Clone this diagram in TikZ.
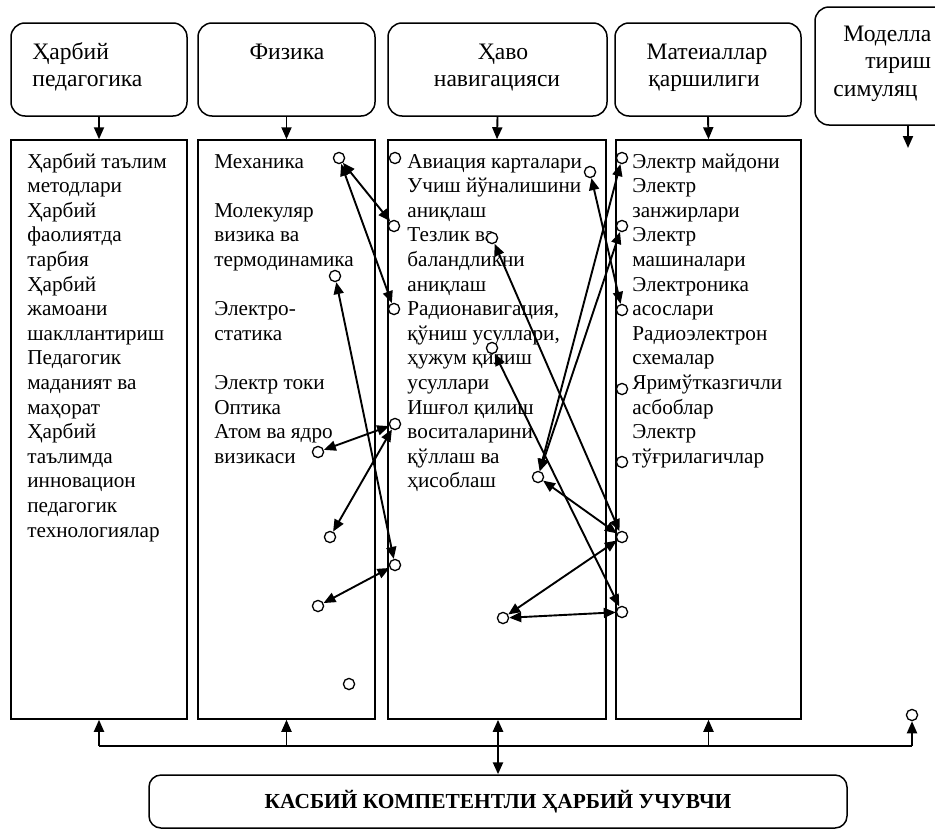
\documentclass[tikz,border=0pt]{standalone}
\usepackage{fontspec}
\setmainfont{Liberation Serif}
\usetikzlibrary{arrows.meta}
\begin{document}
\begin{tikzpicture}[x=0.5pt,y=-0.5pt,
  box/.style={draw,line width=0.75pt,inner sep=0pt},
  rbox/.style={box,rounded corners=7pt},
  txt/.style={anchor=base west,inner sep=0pt,font=\fontsize{10.6}{12.3}\selectfont},
  ttl/.style={inner sep=0pt,font=\fontsize{11.8}{13.5}\selectfont},
  dot/.style={circle,draw,line width=0.65pt,minimum size=5.6pt,inner sep=0pt,fill=white},
  arr/.style={line width=0.95pt,-{Triangle[length=6pt,width=5pt]}},
  darr/.style={line width=0.95pt,{Triangle[length=6pt,width=5pt]}-{Triangle[length=6pt,width=5pt]}}]
\useasboundingbox (0,0) rectangle (935,830);
\clip (0,0) rectangle (935,830);
% top boxes
\node[rbox,minimum width=88pt,minimum height=46.5pt] (T1) at (99,69.5) {};
\node[rbox,minimum width=88.5pt,minimum height=46.5pt] (T2) at (286.5,69.5) {};
\node[rbox,minimum width=109.5pt,minimum height=46.5pt] (T3) at (497.5,69.5) {};
\node[rbox,minimum width=93pt,minimum height=46.5pt] (T4) at (708,69.5) {};
\node[rbox,minimum width=93pt,minimum height=59pt] (T5) at (908,66) {};
\node[ttl,anchor=base west] (t1a) at (32,59) {Ҳарбий};
\node[ttl,anchor=base west] (t1b) at (32,86) {педагогика};
\node[ttl,anchor=base] (t2a) at (287,59) {Физика};
\node[ttl,anchor=base] (t3a) at (503,59) {Ҳаво};
\node[ttl,anchor=base] (t3b) at (497,86) {навигацияси};
\node[ttl,anchor=base] (t4a) at (707,59) {Матеиаллар};
\node[ttl,anchor=base] (t4b) at (704,86) {қаршилиги};
\node[ttl,anchor=base west] (t5a) at (843,41) {Моделла};
\node[ttl,anchor=base west] (t5b) at (865,68.5) {тириш};
\node[ttl,anchor=base west] (t5c) at (833,96) {симуляц};
% lower boxes
\node[box,minimum width=88pt,minimum height=289.5pt] (L1) at (99,429.5) {};
\node[box,minimum width=88.5pt,minimum height=289.5pt] (L2) at (286.5,429.5) {};
\node[box,minimum width=109pt,minimum height=289.5pt] (L3) at (497,429.5) {};
\node[box,minimum width=92.5pt,minimum height=289.5pt] (L4) at (708.5,429.5) {};
% texts
\foreach \i/\t in {0/Ҳарбий таълим,1/методлари,2/Ҳарбий,3/фаолиятда,4/тарбия,5/Ҳарбий,6/жамоани,7/шакллантириш,8/Педагогик,9/маданият ва,10/маҳорат,11/Ҳарбий,12/таълимда,13/инновацион,14/педагогик,15/технологиялар}
  \node[txt] (la\i) at (27,{168+24.6*\i}) {\t};
\foreach \i/\t in {0/Механика,2/Молекуляр,3/визика ва,4/термодинамика,6/Электро-,7/статика,9/Электр токи,10/Оптика,11/Атом ва ядро,12/визикаси}
  \node[txt] (lb\i) at (214,{168+24.6*\i}) {\t};
\foreach \i/\t in {0/Авиация карталари,1/Учиш йўналишини,2/аниқлаш,3/Тезлик ва,4/баландликни,5/аниқлаш,6/{Радионавигация,},7/{қўниш усуллари,},8/ҳужум қилиш,9/усуллари,10/Ишғол қилиш,11/воситаларини,12/қўллаш ва,13/ҳисоблаш}
  \node[txt] (lc\i) at (407,{168+24.6*\i}) {\t};
\foreach \i/\t in {0/Электр майдони,1/Электр,2/занжирлари,3/Электр,4/машиналари,5/Электроника,6/асослари,7/Радиоэлектрон,8/схемалар,9/Яримўтказгичли,10/асбоблар,11/Электр,12/тўғрилагичлар}
  \node[txt] (ld\i) at (632,{168+24.6*\i}) {\t};
% bottom box
\node[rbox,rounded corners=6pt,minimum width=349pt,minimum height=26.5pt,font=\bfseries\fontsize{10.7}{12}\selectfont] (B) at (498,801.5) {КАСБИЙ КОМПЕТЕНТЛИ ҲАРБИЙ УЧУВЧИ};
% circles
\node[dot] (P1) at (339,158) {};
\node[dot] (P2) at (335,276) {};
\node[dot] (P3) at (318,452) {};
\node[dot] (P4) at (330,537) {};
\node[dot] (P5) at (318,606) {};
\node[dot] (P6) at (349,684) {};
\node[dot] (A1) at (395,158) {};
\node[dot] (A2) at (394,226) {};
\node[dot] (A3) at (394,309) {};
\node[dot] (A4) at (395,424) {};
\node[dot] (A5) at (395,565) {};
\node[dot] (A6) at (492,238) {};
\node[dot] (A7) at (492,348) {};
\node[dot] (A8) at (538,477) {};
\node[dot] (A9) at (503,618) {};
\node[dot] (A10) at (590,172) {};
\node[dot] (M1) at (622,158) {};
\node[dot] (M2) at (622,226) {};
\node[dot] (M3) at (622,310) {};
\node[dot] (M4) at (622,389) {};
\node[dot] (M5) at (622,462) {};
\node[dot] (M6) at (622,537) {};
\node[dot] (M7) at (622,612) {};
\node[dot] (R1) at (912,715) {};
% connectors
\draw[darr] (P1) -- (A2);
\draw[darr] (P1) -- (A3);
\draw[darr] (P2) -- (A5);
\draw[darr] (P3) -- (A4);
\draw[darr] (P4) -- (A4);
\draw[darr] (P5) -- (A5);
\draw[darr] (A10) -- (M3);
\draw[darr] (A8) -- (M1);
\draw[darr] (A8) -- (M2);
\draw[darr] (A8) -- (M6);
\draw[darr] (M6) -- (A9);
\draw[darr] (A9) -- (M7);
\draw[darr] (A7) -- (M7);
\draw[darr] (A6) -- (M6);
% top arrows
\draw[arr] (T1.south) -- (L1.north);
\draw[arr] (T2.south) -- (L2.north);
\draw[arr] (T3.south) -- (L3.north);
\draw[arr] (T4.south) -- (L4.north);
\coordinate (t5end) at (908,148);
\draw[arr] (T5.south) -- (t5end);
% bottom bus
\coordinate (h1) at (99,746);
\coordinate (h2) at (286.5,746);
\coordinate (h4) at (708.5,746);
\coordinate (h5) at (912,746);
\draw[line width=1.3pt] (h1) -- (h5);
\draw[arr] (h1) -- (L1.south);
\draw[arr] (h2) -- (L2.south);
\draw[arr] (h4) -- (L4.south);
\draw[arr] (h5) -- (R1);
\draw[darr,line width=1.2pt] (B.north) -- (B.north |- L3.south);
\end{tikzpicture}
\end{document}
